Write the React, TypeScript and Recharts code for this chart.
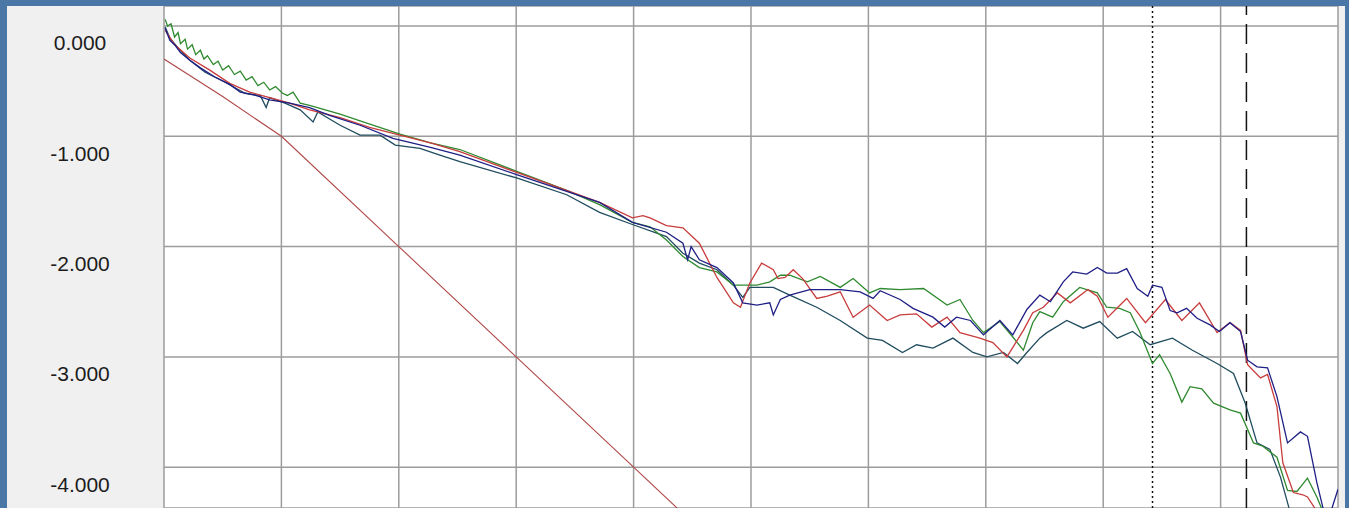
import React from "react";
import { LineChart, Line, XAxis, YAxis, CartesianGrid, ReferenceLine } from "recharts";

type Pt = [number, number];

const yTicks = [0, -1, -2, -3, -4];
const xTicks = [0, 1, 2, 3, 4, 5, 6, 7, 8, 9, 10];
const dottedMarkerX = 8.42;
const dashedMarkerX = 9.22;

const referenceSlope: Pt[] = [
  [0, -0.3], [0.5, -0.64], [1, -1], [2, -2], [3, -3], [4, -4], [4.5, -4.5],
];

const greenSeries: Pt[] = [
  [0.01, 0.06], [0.03, 0.0], [0.06, 0.02], [0.09, -0.1], [0.12, -0.06], [0.14, -0.16],
  [0.18, -0.12], [0.2, -0.21], [0.24, -0.17], [0.27, -0.26], [0.31, -0.22], [0.34, -0.3],
  [0.37, -0.27], [0.42, -0.35], [0.46, -0.32], [0.5, -0.4], [0.55, -0.36], [0.6, -0.44],
  [0.65, -0.41], [0.7, -0.49], [0.75, -0.46], [0.8, -0.54], [0.85, -0.51], [0.9, -0.58],
  [0.95, -0.55], [1.01, -0.61], [1.05, -0.63], [1.1, -0.6], [1.16, -0.7], [1.24, -0.72], [1.5, -0.8],
  [1.67, -0.86], [2.01, -0.98], [2.27, -1.06], [2.52, -1.12], [3.01, -1.32], [3.43, -1.49],
  [3.71, -1.62], [3.99, -1.78], [4.14, -1.82], [4.28, -1.94], [4.42, -2.09], [4.56, -2.19],
  [4.71, -2.23], [4.85, -2.35], [4.99, -2.35], [5.05, -2.35], [5.16, -2.32], [5.25, -2.26],
  [5.33, -2.26], [5.48, -2.32], [5.59, -2.27], [5.76, -2.37], [5.87, -2.29], [6.01, -2.42],
  [6.1, -2.38], [6.27, -2.39], [6.47, -2.38], [6.67, -2.53], [6.78, -2.48], [6.89, -2.67],
  [6.98, -2.78], [7.12, -2.68], [7.23, -2.82], [7.32, -2.94], [7.4, -2.69], [7.46, -2.59],
  [7.57, -2.64], [7.66, -2.5], [7.8, -2.37], [7.95, -2.42], [8.03, -2.55], [8.14, -2.56],
  [8.23, -2.6], [8.31, -2.77], [8.42, -3.06], [8.48, -2.98], [8.57, -3.15], [8.67, -3.41],
  [8.74, -3.27], [8.84, -3.29], [8.94, -3.42], [9.08, -3.48], [9.17, -3.51], [9.28, -3.78],
  [9.36, -3.81], [9.48, -3.91], [9.57, -4.21], [9.65, -4.22], [9.74, -4.1], [9.82, -4.27],
  [9.89, -4.45],
];

const navySeries: Pt[] = [
  [0.01, -0.02], [0.05, -0.13], [0.09, -0.17], [0.14, -0.24], [0.22, -0.31], [0.31, -0.38],
  [0.43, -0.46], [0.56, -0.53], [0.65, -0.6], [0.78, -0.63], [0.9, -0.67], [1.07, -0.7],
  [1.24, -0.74], [1.41, -0.81], [1.67, -0.9], [1.95, -1.02], [2.27, -1.1], [2.52, -1.17],
  [3.01, -1.35], [3.43, -1.5], [3.71, -1.6], [3.99, -1.78], [4.28, -1.87], [4.42, -1.97],
  [4.46, -2.12], [4.49, -2.0], [4.56, -2.12], [4.71, -2.19], [4.85, -2.33], [4.93, -2.51],
  [5.05, -2.53], [5.16, -2.51], [5.19, -2.62], [5.25, -2.48], [5.33, -2.44], [5.5, -2.39],
  [5.76, -2.39], [5.93, -2.41], [6.04, -2.47], [6.1, -2.4], [6.27, -2.48], [6.38, -2.56],
  [6.55, -2.64], [6.65, -2.73], [6.75, -2.64], [6.87, -2.67], [6.98, -2.8], [7.12, -2.67],
  [7.23, -2.8], [7.35, -2.57], [7.46, -2.44], [7.55, -2.5], [7.66, -2.32], [7.74, -2.23],
  [7.86, -2.25], [7.95, -2.19], [8.03, -2.24], [8.12, -2.24], [8.2, -2.2], [8.29, -2.38],
  [8.38, -2.45], [8.42, -2.35], [8.5, -2.37], [8.57, -2.58], [8.63, -2.6], [8.71, -2.56],
  [8.8, -2.65], [8.91, -2.71], [8.99, -2.77], [9.08, -2.69], [9.17, -2.77], [9.23, -3.03],
  [9.31, -3.09], [9.4, -3.1], [9.48, -3.36], [9.57, -3.78], [9.68, -3.68], [9.74, -3.72],
  [9.82, -4.14], [9.87, -4.36], [9.91, -4.5], [10, -4.2],
];

const redSeries: Pt[] = [
  [0.01, -0.04], [0.09, -0.17], [0.22, -0.29], [0.39, -0.4], [0.56, -0.52], [0.73, -0.6],
  [0.9, -0.65], [1.07, -0.7], [1.24, -0.76], [1.5, -0.83], [1.75, -0.92], [2.01, -0.99],
  [2.27, -1.06], [2.52, -1.14], [3.01, -1.33], [3.43, -1.49], [3.71, -1.6], [3.99, -1.74],
  [4.08, -1.72], [4.14, -1.74], [4.28, -1.81], [4.42, -1.83], [4.56, -1.97], [4.71, -2.28],
  [4.85, -2.51], [4.91, -2.55], [4.99, -2.33], [5.09, -2.15], [5.19, -2.21], [5.23, -2.29],
  [5.29, -2.28], [5.36, -2.21], [5.44, -2.29], [5.56, -2.47], [5.65, -2.45], [5.76, -2.41],
  [5.87, -2.64], [6.01, -2.53], [6.16, -2.67], [6.27, -2.62], [6.41, -2.61], [6.54, -2.73],
  [6.67, -2.64], [6.78, -2.78], [6.95, -2.83], [7.06, -2.87], [7.18, -3.0], [7.32, -2.76],
  [7.4, -2.6], [7.49, -2.55], [7.61, -2.42], [7.72, -2.51], [7.87, -2.39], [7.95, -2.45],
  [8.04, -2.64], [8.2, -2.47], [8.36, -2.69], [8.53, -2.48], [8.67, -2.67], [8.82, -2.51],
  [8.97, -2.78], [9.08, -2.69], [9.17, -2.76], [9.23, -3.07], [9.34, -3.19], [9.4, -3.16],
  [9.48, -3.45], [9.53, -3.96], [9.62, -4.23], [9.7, -4.25], [9.74, -4.27], [9.82, -4.4],
];

const tealSeries: Pt[] = [
  [0.01, -0.01], [0.05, -0.11], [0.12, -0.2], [0.22, -0.31], [0.35, -0.42], [0.52, -0.51],
  [0.69, -0.61], [0.82, -0.63], [0.87, -0.74], [0.9, -0.65], [1.03, -0.7], [1.16, -0.76],
  [1.27, -0.87], [1.31, -0.78], [1.5, -0.9], [1.67, -0.99], [1.84, -0.99], [1.97, -1.08],
  [2.18, -1.11], [2.35, -1.17], [2.52, -1.23], [3.01, -1.38], [3.43, -1.53], [3.71, -1.69],
  [3.99, -1.8], [4.28, -1.91], [4.42, -2.06], [4.56, -2.15], [4.71, -2.21], [4.85, -2.35],
  [4.93, -2.46], [4.99, -2.37], [5.19, -2.37], [5.33, -2.44], [5.56, -2.55], [5.76, -2.67],
  [5.99, -2.83], [6.12, -2.85], [6.29, -2.96], [6.41, -2.89], [6.55, -2.92], [6.72, -2.83],
  [6.89, -2.96], [7.01, -3.0], [7.15, -2.96], [7.27, -3.06], [7.35, -2.96], [7.46, -2.83],
  [7.52, -2.78], [7.69, -2.67], [7.83, -2.74], [7.97, -2.68], [8.12, -2.83], [8.25, -2.77],
  [8.4, -2.89], [8.59, -2.83], [8.76, -2.94], [8.97, -3.06], [9.11, -3.15], [9.21, -3.42],
  [9.31, -3.78], [9.42, -3.84], [9.51, -4.09], [9.58, -4.36], [9.63, -4.5],
];

const toRows = (pts: Pt[]) => pts.map(([x, y]) => ({ x, y }));

const YTick = (props: any) => {
  const { y, payload } = props;
  return (
    <text
      x={73}
      y={y + 17}
      textAnchor="middle"
      dominantBaseline="central"
      fontSize={21}
      fontFamily="'Liberation Sans', Arial, sans-serif"
      fill="#1c1c1c"
    >
      {Number(payload.value).toFixed(3)}
    </text>
  );
};

export default function App() {
  return (
    <div
      style={{
        position: "absolute",
        left: 0,
        top: 0,
        width: 1349,
        height: 508,
        background: "#4a77a6",
        overflow: "hidden",
      }}
    >
      <div
        style={{
          position: "absolute",
          left: 7,
          top: 6,
          width: 1338,
          height: 502,
          background: "#f0f0f0",
        }}
      >
        <LineChart width={1338} height={502} margin={{ top: 0, right: 7, bottom: 0, left: 0 }}>
          <CartesianGrid
            stroke="#9c9c9c"
            strokeWidth={1.5}
            fill="#ffffff"
            fillOpacity={1}
            horizontal={true}
            vertical={true}
          />
          <XAxis type="number" dataKey="x" domain={[0, 10]} ticks={xTicks} hide allowDataOverflow />
          <YAxis
            type="number"
            dataKey="y"
            domain={[-4.37, 0.181]}
            ticks={yTicks}
            width={157}
            axisLine={false}
            tickLine={false}
            tick={<YTick />}
            allowDataOverflow
            interval={0}
          />
          <ReferenceLine x={dottedMarkerX} stroke="#111" strokeWidth={1.5} strokeDasharray="2 3" />
          <ReferenceLine x={dashedMarkerX} stroke="#111" strokeWidth={1.5} strokeDasharray="20 9" />
          <Line data={toRows(referenceSlope)} dataKey="y" type="linear" stroke="#b04848" strokeWidth={1.1} dot={false} isAnimationActive={false} />
          <Line data={toRows(tealSeries)} dataKey="y" type="linear" stroke="#1f4c5e" strokeWidth={1.3} dot={false} isAnimationActive={false} />
          <Line data={toRows(greenSeries)} dataKey="y" type="linear" stroke="#2f8a2f" strokeWidth={1.3} dot={false} isAnimationActive={false} />
          <Line data={toRows(redSeries)} dataKey="y" type="linear" stroke="#c83c3c" strokeWidth={1.3} dot={false} isAnimationActive={false} />
          <Line data={toRows(navySeries)} dataKey="y" type="linear" stroke="#1f1f86" strokeWidth={1.3} dot={false} isAnimationActive={false} />
        </LineChart>
      </div>
    </div>
  );
}
